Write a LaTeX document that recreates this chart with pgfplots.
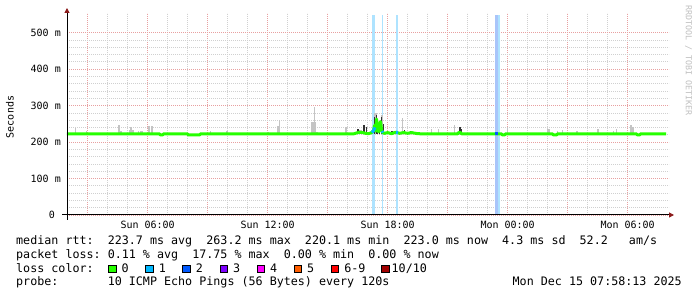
\documentclass[border=0pt]{standalone}
\usepackage{fontspec}
\setmainfont{DejaVu Sans Mono}
\usepackage{pgfplots}
\pgfplotsset{compat=1.18}
\usetikzlibrary{arrows.meta}
\definecolor{loss0}{HTML}{26FF00}
\definecolor{loss1}{HTML}{00B8FF}
\definecolor{loss2}{HTML}{0059FF}
\definecolor{loss3}{HTML}{7E00FF}
\definecolor{loss4}{HTML}{FF00FF}
\definecolor{loss5}{HTML}{FF5E00}
\definecolor{loss6}{HTML}{FF0000}
\definecolor{loss10}{HTML}{A10000}
\definecolor{band1}{HTML}{AEE3FF}
\definecolor{band2}{HTML}{A9C5FA}
\definecolor{smoke}{HTML}{C4C4C4}
\definecolor{smokedark}{HTML}{333333}
\definecolor{mingrid}{HTML}{D0D0D0}
\definecolor{majgrid}{HTML}{E8A0A0}
\definecolor{arrowred}{HTML}{8B1A1A}
\newcommand\fs{\fontsize{11.7}{14}\selectfont\frenchspacing}
\newcommand\ts{\fontsize{10}{12}\selectfont\frenchspacing}
\pgfplotsset{smokebar/.style 2 args={draw=none, mark=none, forget plot,
  error bars/.cd, y dir=plus, y explicit,
  error bar style={draw=#1, line width=#2}, error mark=none}}
\begin{document}
\begin{tikzpicture}[x=1pt,y=1pt]
\useasboundingbox (0,0) rectangle (697,297);
\begin{axis}[
  at={(67pt,82pt)}, anchor=south west,
  scale only axis, width=602pt, height=202pt,
  xmin=1.97, xmax=32.07, ymin=0, ymax=554,
  xtick={3,6,...,30},
  xticklabels={,Sun 06:00,,Sun 12:00,,Sun 18:00,,Mon 00:00,,Mon 06:00},
  minor x tick num=2,
  ytick={0,100,...,500},
  yticklabels={0~~,100 m,200 m,300 m,400 m,500 m},
  minor y tick num=4,
  grid=both,
  major grid style={majgrid, line width=0.8pt, dash pattern=on 1pt off 1pt},
  minor grid style={mingrid, line width=0.8pt, dash pattern=on 1pt off 1pt},
  major tick length=0pt, minor tick length=0pt,
  axis line style={draw=none},
  /pgf/number format/assume math mode=true,
  tick label style={font=\ts},
  xticklabel style={anchor=north, inner sep=0pt, yshift=-6pt},
  yticklabel style={anchor=east, inner sep=0pt, xshift=-6pt},
]
% loss bands
\addplot[fill=band1, draw=none, forget plot] coordinates {(17.22,0)(17.22,549)(17.37,549)(17.37,0)} -- cycle;
\addplot[fill=band1, draw=none, forget plot] coordinates {(17.72,0)(17.72,549)(17.77,549)(17.77,0)} -- cycle;
\addplot[fill=band1, draw=none, forget plot] coordinates {(18.42,0)(18.42,549)(18.52,549)(18.52,0)} -- cycle;
\addplot[fill=band2, draw=none, forget plot] coordinates {(23.37,0)(23.37,549)(23.52,549)(23.52,0)} -- cycle;
\addplot[fill=band1, draw=none, forget plot] coordinates {(23.52,0)(23.52,549)(23.60,549)(23.60,0)} -- cycle;
% smoke, light, 1px
\addplot[smokebar={smoke}{1pt}] table[x=h, y=m, y error=e] {
h m e
2.405 222.5 16.5
2.955 222.5 8.5
5.52 222.5 8.5
9.12 222.5 8.5
12.57 222.5 38.5
14.32 222.5 72.5
18.72 222.5 43.5
20.17 222.5 13.5
20.52 222.5 14.5
21.32 222.5 24.5
23.97 222.5 19.5
26.47 222.5 7.5
26.72 222.5 9.5
29.27 222.5 7.5
29.42 222.5 13.5
};
% smoke, light, 2px
\addplot[smokebar={smoke}{2pt}] table[x=h, y=m, y error=e] {
h m e
4.545 222.5 24.5
4.67 222.5 8.5
5.17 222.5 17.5
6.07 222.5 20.5
6.22 222.5 20.5
9.97 222.5 6.5
12.02 222.5 5.5
12.52 222.5 22.5
14.445 222.5 5.5
15.895 222.5 17.5
17.695 222.5 52.5
27.47 222.5 7.5
28.495 222.5 13.5
30.17 222.5 24.5
30.27 222.5 17.5
};
% smoke, light, 3px
\addplot[smokebar={smoke}{3pt}] table[x=h, y=m, y error=e] {
h m e
5.695 222.5 7.5
17.37 222.5 57.5
26.045 222.5 13.5
};
% smoke, light, wide
\addplot[smokebar={smoke}{5pt}] table[x=h, y=m, y error=e] {
h m e
5.17 222.5 10.5
14.27 222.5 32.5
16.57 222.5 9.5
};
% smoke, dark, 1px
\addplot[smokebar={smokedark}{1pt}] table[x=h, y=m, y error=e] {
h m e
16.92 222.5 17.5
17.345 222.5 45.5
17.42 222.5 52.5
17.495 222.5 39.5
17.57 222.5 35.5
17.67 222.5 47.5
17.77 222.5 27.5
18.82 222.5 9.5
19.12 222.5 7.5
21.67 222.5 13.5
};
% smoke, dark, 2px
\addplot[smokebar={smokedark}{2pt}] table[x=h, y=m, y error=e] {
h m e
16.52 222.5 13.5
16.82 222.5 24.5
18.22 222.5 8.5
21.595 222.5 17.5
};
% median rtt
\addplot[sharp plot, draw=loss0, line width=3pt, line join=round, forget plot] coordinates {
(1.97,222.5) (6.60,222.5) (6.62,220) (6.77,220) (6.79,222.5)
(8.00,222.5) (8.02,220) (8.62,220) (8.64,222.5)
(16.3,222.5) (16.45,225) (16.6,227) (16.75,226) (16.9,224) (17.05,223)
(17.2,226) (17.3,232) (17.35,246) (17.4,230) (17.45,263) (17.5,236)
(17.55,228) (17.6,248) (17.65,256) (17.7,232) (17.75,226) (17.85,224) (18.0,226)
(18.2,223) (18.4,227) (18.6,224) (18.8,226) (19.0,224) (19.2,226) (19.5,223)
(19.8,222.5) (21.5,222.5) (21.55,226) (21.65,226) (21.7,222.5)
(23.70,222.5) (23.72,220) (23.87,220) (23.89,222.5)
(26.25,222.5) (26.27,220) (26.47,220) (26.49,222.5)
(30.45,222.5) (30.47,220) (30.62,220) (30.64,222.5) (31.92,222.5)
};
% loss-coloured parts of the median
\addplot[sharp plot, draw=loss1, line width=3pt, line join=round, forget plot] coordinates {(17.22,226) (17.3,232) (17.37,240)};
\addplot[sharp plot, draw=loss1, line width=3pt, line join=round, forget plot] coordinates {(17.72,230) (17.77,226)};
\addplot[sharp plot, draw=loss1, line width=3pt, line join=round, forget plot] coordinates {(18.42,227) (18.52,226)};
\addplot[sharp plot, draw=loss2, line width=3pt, forget plot] coordinates {(23.37,222.5) (23.52,222.5)};
\end{axis}
% axis lines with arrows
\draw[black, line width=1pt, -{Triangle[length=5pt,width=5pt,color=arrowred]}] (62,82) -- (674,82);
\draw[black, line width=1pt, -{Triangle[length=5pt,width=5pt,color=arrowred]}] (67,77) -- (67,289);
% y label and watermark
\node[rotate=90, font=\ts] at (10,180) {Seconds};
\node[rotate=-90, anchor=west, inner sep=0pt, text=gray!50, font=\fontsize{8.3}{10}\selectfont] at (688.5,292) {RRDTOOL / TOBI OETIKER};
% legend text
\node[anchor=base west, inner sep=0pt, font=\fs] at (16,52) {median rtt:~~223.7 ms avg~~263.2 ms max~~220.1 ms min~~223.0 ms now~~4.3 ms sd~~52.2~~~am/s};
\node[anchor=base west, inner sep=0pt, font=\fs] at (16,38) {packet loss: 0.11 \% avg~~17.75 \% max~~0.00 \% min~~0.00 \% now};
\node[anchor=base west, inner sep=0pt, font=\fs] at (16,24.3) {loss color:};
\foreach \c/\t [count=\k from 0] in {loss0/0,loss1/1,loss2/2,loss3/3,loss4/4,loss5/5,loss6/6-9}{
  \draw[fill=\c, draw=black, line width=0.6pt] (108.5+37.1*\k,24.5) rectangle ++(7.5,7.5);
  \node[anchor=base west, inner sep=0pt, font=\fs] at (121.5+37.1*\k,24.3) {\t};
}
\draw[fill=loss10, draw=black, line width=0.6pt] (381.5,24.5) rectangle ++(7.5,7.5);
\node[anchor=base west, inner sep=0pt, font=\fs] at (391.5,24.3) {10/10};
\node[anchor=base west, inner sep=0pt, font=\fs] at (16,11) {probe:~~~~~~~10 ICMP Echo Pings (56 Bytes) every 120s};
\node[anchor=base west, inner sep=0pt, font=\fs] at (512.5,11) {Mon Dec 15 07:58:13 2025};
\end{tikzpicture}
\end{document}
